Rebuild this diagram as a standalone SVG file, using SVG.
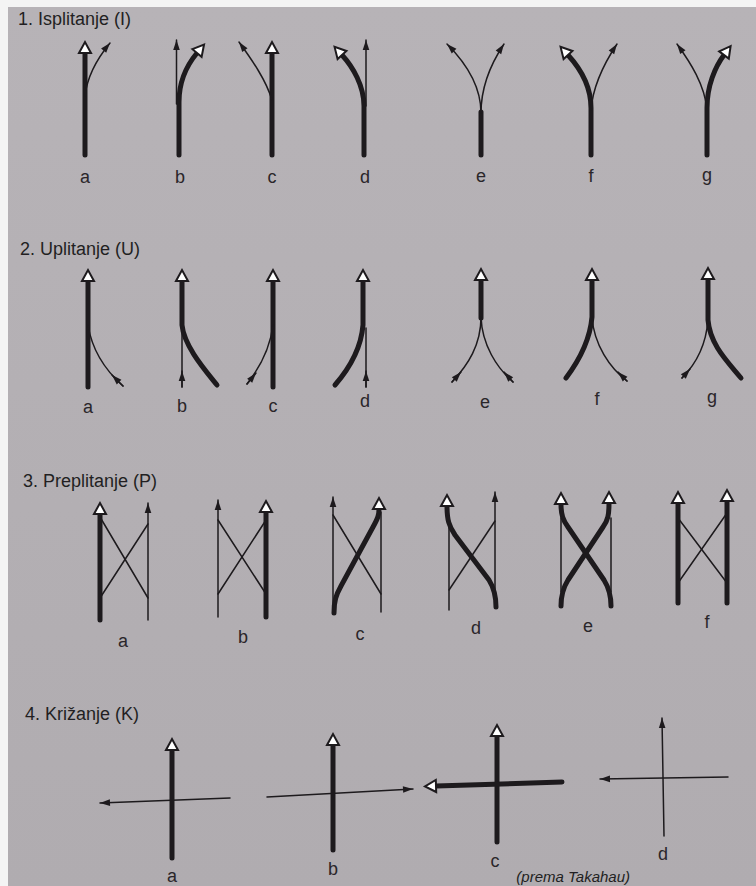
<svg xmlns="http://www.w3.org/2000/svg" width="756" height="886" viewBox="0 0 756 886">
<defs>
<linearGradient id="bg" x1="0" y1="0" x2="0" y2="1">
<stop offset="0" stop-color="#b7b3b7"/>
<stop offset="1" stop-color="#b0acb0"/>
</linearGradient>
<marker id="open" markerUnits="userSpaceOnUse" markerWidth="30" markerHeight="30" refX="0" refY="0" orient="auto" overflow="visible">
<path d="M0,-6 L11,0 L0,6 Z" fill="#ffffff" stroke="#1d1a1d" stroke-width="2"/>
</marker>
<marker id="fill" markerUnits="userSpaceOnUse" markerWidth="30" markerHeight="30" refX="0" refY="0" orient="auto" overflow="visible">
<path d="M-10,-3.3 L0,0 L-10,3.3 Z" fill="#1d1a1d"/>
</marker>
</defs>
<style>
.thick{fill:none;stroke:#1d1a1d;stroke-width:5;stroke-linecap:round;stroke-linejoin:round}
.thickA{fill:none;stroke:#1d1a1d;stroke-width:5;stroke-linecap:round;stroke-linejoin:round;marker-end:url(#open)}
.thin{fill:none;stroke:#1d1a1d;stroke-width:1.5;stroke-linecap:round}
.thinA{fill:none;stroke:#1d1a1d;stroke-width:1.5;stroke-linecap:round;marker-end:url(#fill)}
.head{font-family:"Liberation Sans",Arial,sans-serif;font-size:18px;fill:#221f22}
.lbl{font-family:"Liberation Sans",Arial,sans-serif;font-size:18px;fill:#2a262a;text-anchor:middle}
.cap{font-family:"Liberation Sans",Arial,sans-serif;font-size:15px;font-style:italic;fill:#221f22;text-anchor:end}
</style>
<rect x="0" y="0" width="756" height="886" fill="#f4f4f4"/>
<rect x="8" y="7" width="748" height="879" fill="url(#bg)"/>

<text class="head" x="18" y="25">1. Isplitanje (I)</text>
<text class="head" x="20" y="255">2. Uplitanje (U)</text>
<text class="head" x="23" y="487">3. Preplitanje (P)</text>
<text class="head" x="25" y="720">4. Križanje (K)</text>

<g id="connectors">
<g id="s1a">
<path class="thickA" d="M85,155 L85,53"/>
<path class="thinA" d="M85,96 C87,78 96,60 110,43"/>
</g>
<g id="s1b">
<path class="thinA" d="M176.5,104 L176.5,40"/>
<path class="thickA" d="M179,155 L179,102 C179,82 187,65 197,53"/>
</g>
<g id="s1c">
<path class="thickA" d="M272,155 L272,53"/>
<path class="thinA" d="M272,100 C266,80 252,60 239,42"/>
</g>
<g id="s1d">
<path class="thinA" d="M366,106 L366,40"/>
<path class="thickA" d="M364,155 L364,106 C364,86 353,67 342,55"/>
</g>
<g id="s1e">
<path class="thick" d="M481,155 L481,112"/>
<path class="thinA" d="M481,113 C481,86 465,62 447,44"/>
<path class="thinA" d="M481,113 C481,86 492,62 504,44"/>
</g>
<g id="s1f">
<path class="thickA" d="M591,155 L591,108 C591,86 579,67 568,55"/>
<path class="thinA" d="M591,110 C593,85 605,62 617,44"/>
</g>
<g id="s1g">
<path class="thinA" d="M707,110 C705,85 690,62 677,44"/>
<path class="thickA" d="M707,155 L707,108 C707,86 715,67 724,55"/>
</g>

<g id="s2a">
<path class="thickA" d="M88,387 L88,281"/>
<path class="thin" d="M88,325 C92,350 105,370 123,386"/>
<path class="thinA" d="M123,386 L112,375"/>
</g>
<g id="s2b">
<path class="thin" d="M182,387 L182,325"/>
<path class="thinA" d="M182,387 L182,371"/>
<path class="thickA" d="M217,385 C205,370 184,346 182,325 L182,281"/>
</g>
<g id="s2c">
<path class="thickA" d="M273,387 L273,281"/>
<path class="thin" d="M247,384 C258,370 270,350 273,325"/>
<path class="thinA" d="M247,384 L256,373"/>
</g>
<g id="s2d">
<path class="thin" d="M366,387 L366,328"/>
<path class="thinA" d="M366,387 L366,371"/>
<path class="thickA" d="M335,385 C348,370 361,350 363,325 L363,281"/>
</g>
<g id="s2e">
<path class="thickA" d="M481,318 L481,280"/>
<path class="thin" d="M481,317 C481,345 468,365 452,382"/>
<path class="thinA" d="M452,382 L461,372"/>
<path class="thin" d="M481,317 C482,345 497,368 513,382"/>
<path class="thinA" d="M513,382 L504,372"/>
</g>
<g id="s2f">
<path class="thickA" d="M566,378 C578,362 590,340 592,317 L592,280"/>
<path class="thin" d="M592,317 C594,345 610,368 627,381"/>
<path class="thinA" d="M627,381 L618,372"/>
</g>
<g id="s2g">
<path class="thickA" d="M741,378 C728,362 710,345 708,320 L708,279"/>
<path class="thin" d="M708,320 C706,345 695,365 682,378"/>
<path class="thinA" d="M682,378 L690,369"/>
</g>

<g id="s3a">
<path class="thin" d="M100,517 L148,598"/>
<path class="thin" d="M100,598 L148,524"/>
<path class="thickA" d="M100,620 L100,514"/>
<path class="thinA" d="M148,620 L148,503"/>
</g>
<g id="s3b">
<path class="thin" d="M218,520 L266,594"/>
<path class="thin" d="M218,594 L266,520"/>
<path class="thinA" d="M218,617 L218,500"/>
<path class="thickA" d="M266,617 L266,512"/>
</g>
<g id="s3c">
<path class="thinA" d="M333,612 L333,497"/>
<path class="thin" d="M381,612 L381,512"/>
<path class="thin" d="M333,515 L381,594"/>
<path class="thickA" d="M334,613 C334,601 336,595 341,586 L373,527 C378,518 379,515 379,509"/>
</g>
<g id="s3d">
<path class="thin" d="M449,610 L449,522"/>
<path class="thinA" d="M495,592 L495,492"/>
<path class="thin" d="M449,590 L495,521"/>
<path class="thickA" d="M496,607 C496,596 494,588 489,580 L455,535 C449,526 447,520 447,506"/>
</g>
<g id="s3e">
<path class="thin" d="M561,592 L561,518"/>
<path class="thin" d="M611,592 L611,518"/>
<path class="thickA" d="M561,606 C561,595 563,588 568,580 L603,527 C608,520 609,515 609,503"/>
<path class="thickA" d="M611,606 C611,595 609,588 604,580 L568,527 C563,520 561,515 561,504"/>
</g>
<g id="s3f">
<path class="thin" d="M678,518 L727,583"/>
<path class="thin" d="M678,583 L727,513"/>
<path class="thickA" d="M678,603 L678,503"/>
<path class="thickA" d="M727,603 L727,501"/>
</g>

<g id="s4a">
<path class="thinA" d="M230,798 L100,803"/>
<path class="thickA" d="M172,858 L172,750"/>
</g>
<g id="s4b">
<path class="thinA" d="M267,797 L413,789"/>
<path class="thickA" d="M333,850 L333,745"/>
</g>
<g id="s4c">
<path class="thickA" d="M497,842 L497,736"/>
<path class="thickA" d="M562,782 L436,786"/>
</g>
<g id="s4d">
<path class="thinA" d="M728,777 L600,779"/>
<path class="thinA" d="M664,836 L662,718"/>
</g>
</g>

<g id="labels">
<text class="lbl" x="85" y="183">a</text>
<text class="lbl" x="180" y="183">b</text>
<text class="lbl" x="272" y="183">c</text>
<text class="lbl" x="365" y="183">d</text>
<text class="lbl" x="481" y="182">e</text>
<text class="lbl" x="591" y="182">f</text>
<text class="lbl" x="707" y="181">g</text>

<text class="lbl" x="88" y="413">a</text>
<text class="lbl" x="182" y="412">b</text>
<text class="lbl" x="273" y="412">c</text>
<text class="lbl" x="365" y="407">d</text>
<text class="lbl" x="485" y="408">e</text>
<text class="lbl" x="597" y="405">f</text>
<text class="lbl" x="712" y="403">g</text>

<text class="lbl" x="123" y="647">a</text>
<text class="lbl" x="243" y="643">b</text>
<text class="lbl" x="360" y="640">c</text>
<text class="lbl" x="476" y="634">d</text>
<text class="lbl" x="588" y="632">e</text>
<text class="lbl" x="707" y="628">f</text>

<text class="lbl" x="172" y="882">a</text>
<text class="lbl" x="333" y="875">b</text>
<text class="lbl" x="495" y="867">c</text>
<text class="lbl" x="663" y="860">d</text>
</g>
<text class="cap" x="630" y="882">(prema Takahau)</text>
</svg>
